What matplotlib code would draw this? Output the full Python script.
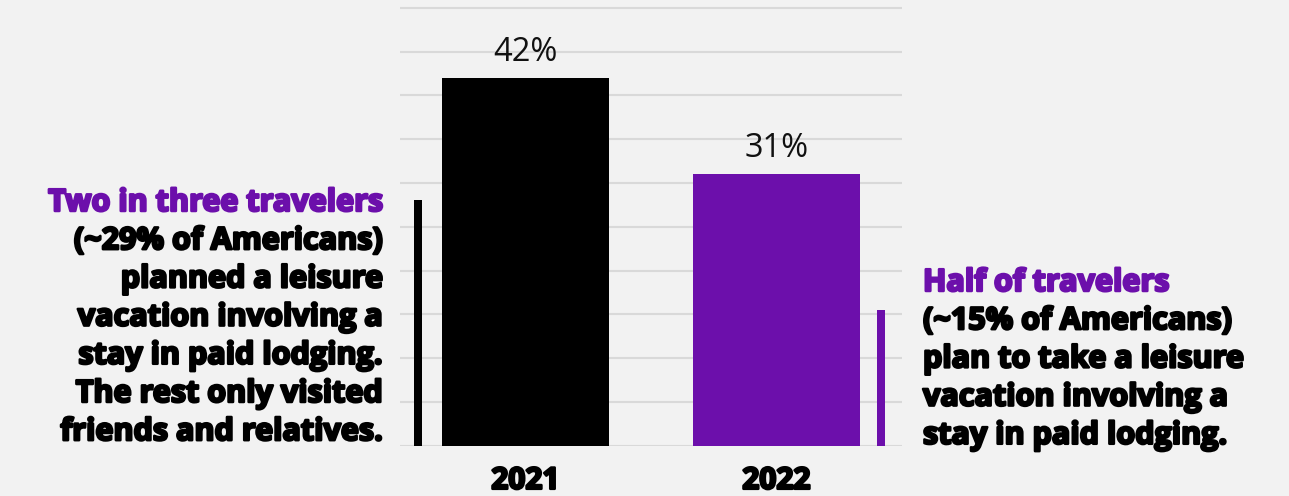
import matplotlib.pyplot as plt
import matplotlib.patheffects as pe

years = ['2021', '2022']
shares = [42, 31]             # % of Americans who planned a leisure trip
paid_lodging = [28, 15.5]     # portion of those staying in paid lodging
bar_colors = ['#000000', '#6c0fab']
value_labels = ['42%', '31%']

left_head = 'Two in three travelers'
left_body = ['(~29% of Americans)', 'planned a leisure', 'vacation involving a',
             'stay in paid lodging.', 'The rest only visited', 'friends and relatives.']
right_head = 'Half of travelers'
right_body = ['(~15% of Americans)', 'plan to take a leisure',
              'vacation involving a', 'stay in paid lodging.']

bg = '#f2f2f2'
plt.rcParams['font.family'] = ['Open Sans', 'DejaVu Sans']

def heavy(c, w=1.8):
    # fake an extra-bold weight by stroking the glyph outline
    return [pe.withStroke(linewidth=w, foreground=c)]

fig = plt.figure(figsize=(12.89, 4.96), dpi=100, facecolor=bg)
ax = fig.add_axes([400/1289, 50.3/496, 502/1289, 445.7/496])
ax.set_facecolor(bg)

x = list(range(len(years)))
ax.bar(x, shares, width=0.667, color=bar_colors, zorder=2)
offsets = [-0.43, 0.415]
ax.bar([i + o for i, o in zip(x, offsets)], paid_lodging, width=0.032,
       color=bar_colors, zorder=2)

for i, v in enumerate(shares):
    ax.text(i, v + 1.95, value_labels[i], ha='center', va='baseline', fontsize=23.5,
            color='#111111')

ax.set_xlim(-0.5, 1.5)
ax.set_ylim(0, 50.88)
ax.set_yticks(range(0, 51, 5))
ax.yaxis.grid(True, color='#d9d9d9', linewidth=1.5, zorder=0)
ax.set_axisbelow(True)
ax.tick_params(left=False, bottom=False, labelleft=False)
ax.set_xticks(x)
ax.set_xticklabels(years, fontsize=21.5, fontweight='bold')
for t in ax.get_xticklabels():
    t.set_path_effects(heavy('#000000'))
ax.tick_params(axis='x', pad=11)
for s in ax.spines.values():
    s.set_visible(False)

# annotations
fs = 22
lh = 38.2 / 496
y0 = 1 - 203 / 496
fig.text(382/1289, y0, left_head, ha='right', va='center', fontsize=fs,
         fontweight='bold', color=bar_colors[1], path_effects=heavy(bar_colors[1]))
for k, line in enumerate(left_body):
    fig.text(382/1289, y0 - (k + 1) * lh, line, ha='right', va='center',
             fontsize=fs, fontweight='bold', color='#000000',
             path_effects=heavy('#000000'))

y1 = 1 - 283 / 496
fig.text(923/1289, y1, right_head, ha='left', va='center', fontsize=fs,
         fontweight='bold', color=bar_colors[1], path_effects=heavy(bar_colors[1]))
for k, line in enumerate(right_body):
    fig.text(923/1289, y1 - (k + 1) * lh, line, ha='left', va='center',
             fontsize=fs, fontweight='bold', color='#000000',
             path_effects=heavy('#000000'))

fig.savefig('out.png', dpi=100, facecolor=bg)
